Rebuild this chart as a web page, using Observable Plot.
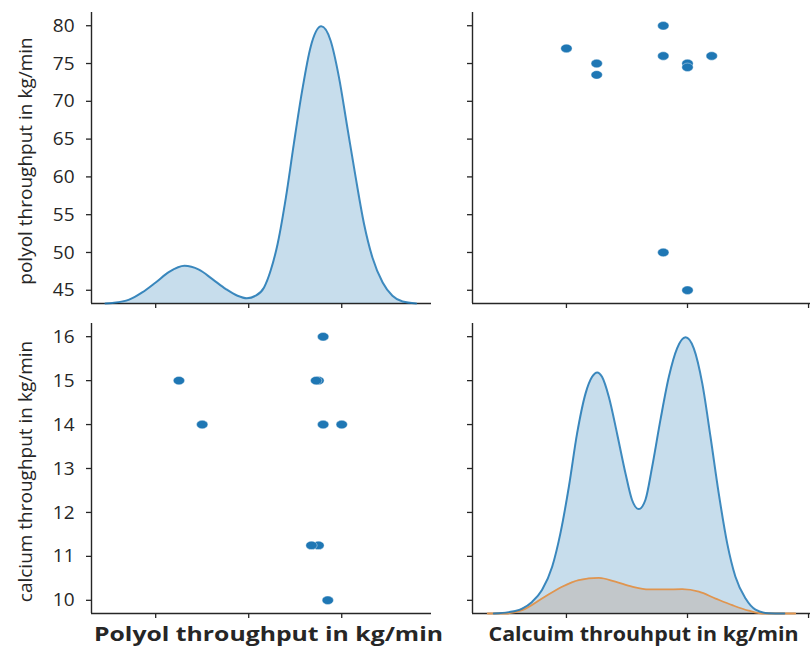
<!DOCTYPE html>
<html>
<head>
<meta charset="utf-8">
<script src="https://cdn.jsdelivr.net/npm/d3@7"></script>
<script src="https://cdn.jsdelivr.net/npm/@observablehq/plot@0.6"></script>
<style>
  html, body { margin: 0; padding: 0; background: #ffffff; }
  #fig { position: relative; width: 810px; height: 650px; overflow: hidden; background: #ffffff; }
  #fig svg { position: absolute; left: 0; top: 0; }
</style>
</head>
<body>
<div id="fig"></div>
<script>
// ---------------- data ----------------
const polyol  = [77, 75, 73.5, 80, 76, 50, 75, 74.5, 45, 76];
const calcium = [10, 11.25, 11.25, 14, 14, 14, 15, 15, 15, 16];

const polyolTicks  = [45, 50, 55, 60, 65, 70, 75, 80];
const calciumTicks = [10, 11, 12, 13, 14, 15, 16];
const polyolXTicks  = [40, 60, 80];
const calciumXTicks = [10, 15, 20];

const yLabels = ["polyol throughput in kg/min", "calcium throughput in kg/min"];
const xLabels = ["Polyol throughput in kg/min", "Calcuim throuhput in kg/min"];

// diagonal density curves (relative height, peak = 1)
const polyolKdeX = [29.2, 30.7, 34.3, 37.1, 40.0, 42.9, 46.2, 49.3, 52.2, 55.1, 57.6, 59.6, 61.5, 63.3, 64.7, 66.2, 68.0, 69.7, 71.5, 73.3, 75.6, 77.6, 79.4, 81.2, 83.0, 84.8, 86.6, 88.8, 90.9, 93.1, 96.0];
const polyolKdeD = [0, 0.002, 0.014, 0.040, 0.076, 0.114, 0.136, 0.122, 0.088, 0.052, 0.028, 0.019, 0.028, 0.058, 0.118, 0.214, 0.383, 0.576, 0.769, 0.925, 1.0, 0.949, 0.817, 0.636, 0.455, 0.287, 0.166, 0.076, 0.028, 0.007, 0];

const calciumKdeX = [7.0, 7.62, 8.17, 8.58, 8.99, 9.41, 9.75, 10.10, 10.44, 10.79, 11.06, 11.27, 11.47, 11.75, 12.09, 12.44, 12.71, 12.99, 13.26, 13.54, 13.88, 14.23, 14.57, 14.92, 15.26, 15.61, 15.95, 16.29, 16.64, 16.98, 17.40, 17.81, 18.36, 19.0];
const calciumKdeD = [0, 0.005, 0.018, 0.042, 0.085, 0.169, 0.290, 0.459, 0.652, 0.797, 0.857, 0.873, 0.857, 0.785, 0.652, 0.507, 0.411, 0.378, 0.411, 0.531, 0.700, 0.857, 0.960, 1.0, 0.960, 0.833, 0.640, 0.435, 0.254, 0.133, 0.054, 0.014, 0.001, 0];

const calciumKde2X = [6.75, 7.48, 8.17, 8.99, 9.82, 10.51, 11.34, 12.02, 12.71, 13.40, 14.09, 14.78, 15.47, 16.16, 16.85, 17.53, 18.09, 19.45];
const calciumKde2D = [0, 0, 0.012, 0.054, 0.097, 0.121, 0.129, 0.115, 0.097, 0.087, 0.087, 0.088, 0.079, 0.054, 0.030, 0.010, 0, 0];

// ---------------- layout / style ----------------
const W = 810, H = 650;
const cols = [[91, 431], [472, 810]];
const rows = [[12, 303], [323, 613]];
const xDomains = { polyol: [26.2, 99.3], calcium: [6.12, 20.08] };
const yDomains = { polyol: [43.25, 81.75], calcium: [9.7, 16.3] };
const densityDomain = [0, 1.05];
const ink = "#262626";
const blue = "#1f77b4";

const fig = document.getElementById("fig");

const points = polyol.map((p, i) => ({ polyol: p, calcium: calcium[i] }));
const kdeP = polyolKdeX.map((x, i) => ({ x, d: polyolKdeD[i] }));
const kdeC = calciumKdeX.map((x, i) => ({ x, d: calciumKdeD[i] }));
const kdeC2 = calciumKde2X.map((x, i) => ({ x, d: calciumKde2D[i] }));

const ellipse = {
  draw(ctx, size) {
    const r = Math.sqrt(size / Math.PI);
    const rx = r * 1.18, ry = r * 0.88, k = 0.5523;
    ctx.moveTo(rx, 0);
    ctx.bezierCurveTo(rx, k * ry, k * rx, ry, 0, ry);
    ctx.bezierCurveTo(-k * rx, ry, -rx, k * ry, -rx, 0);
    ctx.bezierCurveTo(-rx, -k * ry, -k * rx, -ry, 0, -ry);
    ctx.bezierCurveTo(k * rx, -ry, rx, -k * ry, rx, 0);
    ctx.closePath();
  }
};

function margins(c, r) {
  return {
    marginLeft: cols[c][0], marginRight: W - cols[c][1],
    marginTop: rows[r][0], marginBottom: H - rows[r][1]
  };
}
const baseStyle = { background: "transparent", overflow: "visible", fontFamily: "'Open Sans', sans-serif", fontSize: "19px", color: ink };

function panel(c, r, xKey, yKey, extraMarks) {
  const xd = xDomains[xKey], yd = yDomains[yKey];
  const marks = [
    Plot.axisX({ ticks: xKey === "polyol" ? polyolXTicks : calciumXTicks, tickSize: 5, strokeWidth: 1.3, tickFormat: () => "", label: null }),
    Plot.axisY({ ticks: yKey === "polyol" ? polyolTicks : calciumTicks, tickSize: 5, strokeWidth: 1.3, tickPadding: 12,
      tickFormat: c === 0 ? (d => String(d)) : (() => ""), label: null, fontSize: 19 }),
    Plot.ruleX([xd[0]], { stroke: ink, strokeWidth: 1.4 }),
    Plot.ruleY([yd[0]], { stroke: ink, strokeWidth: 1.4 })
  ];
  if (c === 0) {
    marks.push(Plot.text([yLabels[r]], { text: d => d, frameAnchor: "left", rotate: -90, dx: -66, dy: 3,
      textAnchor: "middle", lineAnchor: "middle", fontSize: 19, fill: ink }));
  }
  if (r === 1) {
    marks.push(Plot.text([xLabels[c]], { text: d => d, frameAnchor: "bottom", dx: c === 0 ? 7 : 2, dy: 21,
      textAnchor: "middle", lineAnchor: "middle", fontSize: 19, fontWeight: "bold", fill: ink }));
  }
  const svg = Plot.plot({
    width: W, height: H, ...margins(c, r),
    style: baseStyle,
    x: { domain: xd }, y: { domain: yd },
    marks: marks.concat(extraMarks || [])
  });
  fig.appendChild(svg);
  return svg;
}

function densityOverlay(c, r, xKey, marks) {
  const svg = Plot.plot({
    width: W, height: H, ...margins(c, r),
    style: baseStyle,
    x: { domain: xDomains[xKey], axis: null },
    y: { domain: densityDomain, axis: null },
    marks
  });
  fig.appendChild(svg);
}

// top-left: polyol diagonal
panel(0, 0, "polyol", "polyol");
densityOverlay(0, 0, "polyol", [
  Plot.areaY(kdeP, { x: "x", y: "d", fill: blue, fillOpacity: 0.25, curve: "monotone-x" }),
  Plot.lineY(kdeP, { x: "x", y: "d", stroke: blue, strokeOpacity: 0.85, strokeWidth: 2, curve: "monotone-x" })
]);

// top-right: calcium (x) vs polyol (y)
panel(1, 0, "calcium", "polyol", [
  Plot.dot(points, { x: "calcium", y: "polyol", r: 4.8, symbol: ellipse, fill: blue, stroke: "white", strokeWidth: 0.4 })
]);

// bottom-left: polyol (x) vs calcium (y)
panel(0, 1, "polyol", "calcium", [
  Plot.dot(points, { x: "polyol", y: "calcium", r: 4.8, symbol: ellipse, fill: blue, stroke: "white", strokeWidth: 0.4 })
]);

// bottom-right: calcium diagonal
panel(1, 1, "calcium", "calcium");
densityOverlay(1, 1, "calcium", [
  Plot.areaY(kdeC, { x: "x", y: "d", fill: blue, fillOpacity: 0.25, curve: "monotone-x" }),
  Plot.areaY(kdeC2, { x: "x", y: "d", fill: "#b07a50", fillOpacity: 0.22, curve: "monotone-x" }),
  Plot.lineY(kdeC2, { x: "x", y: "d", stroke: "#e0954f", strokeWidth: 1.8, curve: "monotone-x" }),
  Plot.lineY(kdeC, { x: "x", y: "d", stroke: blue, strokeOpacity: 0.85, strokeWidth: 2, curve: "monotone-x" })
]);

// stretch the bold x labels to the reference width
const targetLen = { [xLabels[0]]: 349, [xLabels[1]]: 310 };
fig.querySelectorAll("text").forEach(t => {
  const s = t.textContent;
  if (targetLen[s]) {
    t.setAttribute("textLength", targetLen[s]);
    t.setAttribute("lengthAdjust", "spacingAndGlyphs");
  }
});
</script>
</body>
</html>
